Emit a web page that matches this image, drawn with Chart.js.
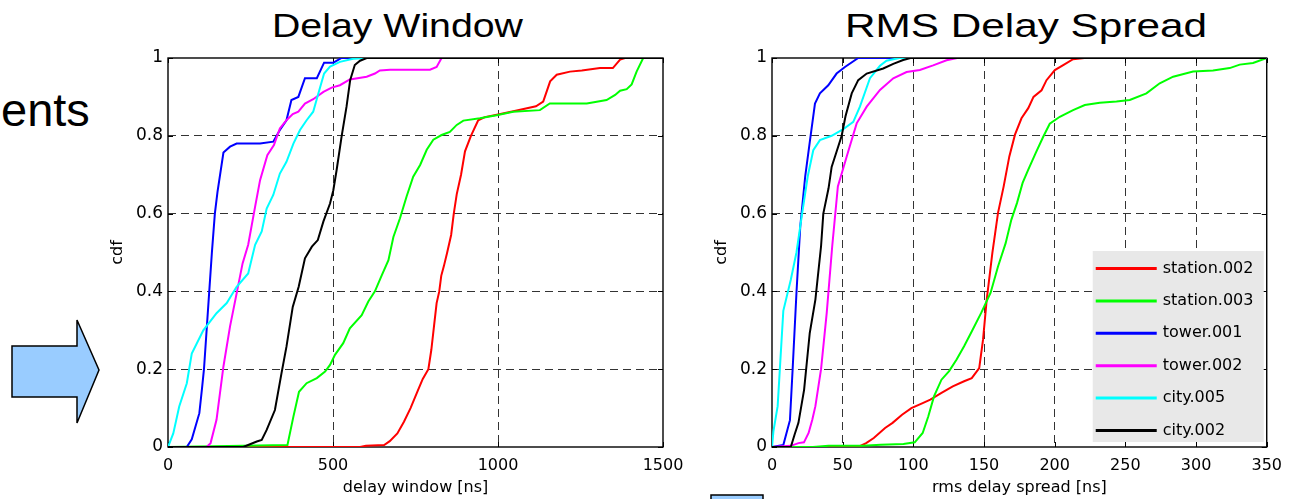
<!DOCTYPE html>
<html>
<head>
<meta charset="utf-8">
<script src="https://cdn.jsdelivr.net/npm/chart.js@4/dist/chart.umd.min.js"></script>
<style>
  html, body { margin: 0; padding: 0; background: #fff; }
  body { width: 1291px; height: 499px; position: relative; overflow: hidden; }
  #deco { position: absolute; left: 0; top: 0; }
  canvas { position: absolute; top: 0; }
  #dwChart { left: 0; }
  #rmsChart { left: 700px; }
</style>
</head>
<body>
<svg id="deco" width="1291" height="499" font-family="Liberation Sans, Arial, sans-serif">
  <text x="1" y="126" font-size="47" fill="#000">ents</text>
  <polygon points="12,346 77,346 77,320 99,370 77,423 77,397 12,397" fill="#99CCFF" stroke="#000" stroke-width="1.5"/>
  <rect x="711" y="495" width="52" height="12" fill="#99CCFF" stroke="#000" stroke-width="1.5"/>
  <text x="272" y="37" font-size="33" fill="#000" textLength="251" lengthAdjust="spacingAndGlyphs">Delay Window</text>
  <text x="845" y="37" font-size="33" fill="#000" textLength="362" lengthAdjust="spacingAndGlyphs">RMS Delay Spread</text>
</svg>
<canvas id="dwChart" width="700" height="499"></canvas>
<canvas id="rmsChart" width="591" height="499"></canvas>
<script>
// Measurement sets, in legend order
const seriesNames = ['station.002', 'station.003', 'tower.001', 'tower.002', 'city.005', 'city.002'];
const seriesColors = ['#ff0000', '#00ff00', '#0000ff', '#ff00ff', '#00ffff', '#000000'];

// CDF axis
const cdfTicks = [0, 0.2, 0.4, 0.6, 0.8, 1];
const cdfTickLabels = ['0', '0.2', '0.4', '0.6', '0.8', '1'];

// Delay window [ns] axis
const dwTicks = [0, 500, 1000, 1500];
const dwTickLabels = ['0', '500', '1000', '1500'];

// RMS delay spread [ns] axis
const rmsTicks = [0, 50, 100, 150, 200, 250, 300, 350];
const rmsTickLabels = ['0', '50', '100', '150', '200', '250', '300', '350'];

// Delay window CDFs: [delay ns, cdf]
const dwStation002 = [[0,0],[582,0],[600,0.003],[655,0.005],[672,0.015],[695,0.035],[715,0.065],[735,0.1],[757,0.145],[772,0.175],[789,0.2],[798,0.25],[806,0.31],[814,0.37],[822,0.4],[828,0.44],[836,0.465],[846,0.5],[858,0.545],[866,0.6],[875,0.65],[888,0.7],[900,0.76],[918,0.8],[940,0.84],[960,0.848],[1000,0.855],[1050,0.864],[1115,0.876],[1137,0.888],[1158,0.94],[1178,0.957],[1218,0.965],[1254,0.968],[1309,0.974],[1348,0.974],[1370,0.996],[1385,1],[1500,1]];
const dwStation003 = [[0,0],[228,0.003],[362,0.005],[380,0.078],[397,0.142],[420,0.164],[451,0.177],[476,0.194],[491,0.211],[506,0.237],[531,0.267],[551,0.305],[587,0.339],[607,0.374],[627,0.4],[648,0.442],[668,0.48],[683,0.54],[703,0.588],[723,0.644],[743,0.695],[764,0.725],[784,0.764],[804,0.79],[829,0.802],[854,0.81],[875,0.828],[895,0.839],[945,0.845],[996,0.853],[1046,0.862],[1127,0.866],[1157,0.883],[1269,0.883],[1329,0.892],[1355,0.905],[1370,0.916],[1390,0.92],[1405,0.932],[1420,0.965],[1440,1],[1500,1]];
const dwTower001 = [[0,0],[57,0],[72,0.02],[95,0.087],[103,0.15],[109,0.2],[117,0.3],[125,0.4],[133,0.5],[142,0.6],[150,0.656],[168,0.757],[188,0.772],[208,0.78],[279,0.78],[319,0.785],[339,0.815],[359,0.84],[374,0.892],[395,0.9],[415,0.948],[451,0.948],[473,0.988],[501,0.988],[526,1],[1500,1]];
const dwTower002 = [[0,0],[117,0],[129,0.01],[147,0.07],[168,0.207],[188,0.31],[208,0.395],[226,0.472],[243,0.52],[264,0.618],[279,0.686],[301,0.75],[321,0.776],[339,0.819],[359,0.84],[378,0.856],[395,0.862],[415,0.883],[440,0.894],[471,0.913],[496,0.924],[521,0.93],[551,0.945],[602,0.952],[627,0.96],[642,0.968],[673,0.97],[794,0.97],[814,0.977],[829,1],[1500,1]];
const dwCity005 = [[0,0],[16,0.035],[34,0.104],[57,0.164],[72,0.24],[107,0.3],[147,0.344],[178,0.37],[208,0.412],[243,0.446],[264,0.52],[284,0.554],[299,0.613],[319,0.648],[339,0.703],[359,0.733],[380,0.78],[400,0.815],[420,0.84],[440,0.862],[456,0.91],[473,0.96],[491,0.978],[521,0.99],[561,0.998],[602,1],[1500,1]];
const dwCity002 = [[0,0],[228,0],[243,0.005],[269,0.014],[284,0.018],[299,0.044],[324,0.095],[344,0.19],[359,0.258],[378,0.36],[396,0.412],[415,0.485],[436,0.515],[454,0.532],[471,0.58],[491,0.626],[501,0.66],[511,0.712],[526,0.798],[541,0.875],[552,0.943],[566,0.982],[582,0.993],[602,1],[1500,1]];

// RMS delay spread CDFs: [spread ns, cdf]
const rmsStation002 = [[0,0],[61,0],[66.6,0.01],[72,0.023],[80,0.049],[85.3,0.062],[92,0.083],[98.6,0.1],[106.6,0.113],[112,0.122],[119.9,0.139],[127.9,0.156],[135.9,0.169],[141.3,0.177],[146.6,0.203],[149.3,0.276],[151.9,0.379],[155.9,0.499],[159.9,0.602],[163.9,0.67],[167.9,0.747],[171.9,0.803],[176.5,0.845],[181.3,0.871],[185,0.9],[190.7,0.917],[194.2,0.943],[200.1,0.969],[206.6,0.983],[213,0.997],[221,1],[350,1]];
const rmsStation003 = [[0,0],[29,0],[40,0.003],[64,0.003],[77,0.006],[93,0.008],[101,0.012],[106.6,0.036],[110.6,0.079],[114.6,0.13],[119.9,0.173],[125.3,0.195],[130.6,0.225],[135.9,0.259],[141.3,0.297],[147.9,0.344],[154.6,0.396],[159.9,0.464],[165.3,0.524],[169.3,0.584],[173.3,0.627],[177.3,0.679],[181.3,0.713],[186.6,0.756],[191.8,0.797],[196.5,0.831],[203.6,0.849],[213,0.866],[221.3,0.879],[231.9,0.885],[243.7,0.888],[253.1,0.892],[264.9,0.909],[274.3,0.935],[283.8,0.952],[297.9,0.965],[312,0.968],[323.8,0.974],[330.9,0.983],[340.3,0.987],[350,1]];
const rmsTower001 = [[0,0],[8,0.005],[12.7,0.069],[14.7,0.207],[17.3,0.396],[20,0.567],[23.5,0.696],[26.9,0.789],[30.4,0.883],[33.9,0.909],[39.8,0.93],[45.7,0.96],[51.6,0.977],[61,1],[350,1]];
const rmsTower002 = [[0,0],[13.3,0.003],[18.7,0.01],[22.6,0.012],[25.9,0.036],[28.5,0.07],[30.7,0.105],[34.7,0.2],[38.7,0.344],[42.6,0.516],[46.6,0.67],[52.8,0.746],[59.9,0.832],[67,0.875],[76.4,0.918],[85.8,0.948],[95.2,0.964],[104.6,0.969],[114,0.981],[123.5,0.994],[131,1],[350,1]];
const rmsCity005 = [[0,0],[1,0.04],[4,0.105],[8,0.35],[13.3,0.43],[17.3,0.5],[21.3,0.6],[25.3,0.696],[29.2,0.763],[33.9,0.789],[42.2,0.8],[50.4,0.817],[57.5,0.836],[62.2,0.875],[69.3,0.948],[76.4,0.98],[81,0.993],[90,1],[350,1]];
const rmsCity002 = [[0,0],[13.3,0],[16,0.032],[18.7,0.062],[22.7,0.147],[26.7,0.293],[30.7,0.379],[34.7,0.516],[36.3,0.6],[40,0.665],[42.2,0.72],[49.3,0.8],[52,0.85],[56.4,0.909],[61,0.943],[67,0.96],[78.7,0.973],[85.8,0.985],[92.8,0.995],[98,1],[350,1]];

Chart.defaults.font.family = 'DejaVu Sans, sans-serif';
Chart.defaults.color = '#000';

// Box around the axes plus MATLAB-style inward tick marks on all four sides
const axesBox = {
  id: 'axesBox',
  beforeDatasetsDraw(chart) {
    const { ctx, chartArea: a, scales } = chart;
    ctx.save();
    ctx.strokeStyle = '#000';
    ctx.lineWidth = 1.4;
    ctx.strokeRect(a.left, a.top, a.right - a.left, a.bottom - a.top);
    ctx.lineWidth = 1;
    ctx.beginPath();
    const len = 5;
    scales.x.ticks.forEach(t => {
      const px = Math.round(scales.x.getPixelForValue(t.value)) + 0.5;
      ctx.moveTo(px, a.bottom); ctx.lineTo(px, a.bottom - len);
      ctx.moveTo(px, a.top); ctx.lineTo(px, a.top + len);
    });
    scales.y.ticks.forEach(t => {
      const py = Math.round(scales.y.getPixelForValue(t.value)) + 0.5;
      ctx.moveTo(a.left, py); ctx.lineTo(a.left + len, py);
      ctx.moveTo(a.right, py); ctx.lineTo(a.right - len, py);
    });
    ctx.stroke();
    ctx.restore();
  }
};

// Legend drawn inside the plot, lower right, on a grey panel
const insetLegend = {
  id: 'insetLegend',
  afterDatasetsDraw(chart, args, opts) {
    if (!opts.display) return;
    const { ctx, chartArea: a } = chart;
    const w = 171, h = 191;
    const x0 = a.right - 3 - w, y0 = a.bottom - 5 - h;
    ctx.save();
    ctx.fillStyle = '#e8e8e8';
    ctx.fillRect(x0, y0, w, h);
    ctx.font = '16px "DejaVu Sans", sans-serif';
    ctx.textBaseline = 'middle';
    ctx.textAlign = 'left';
    chart.data.datasets.forEach((ds, i) => {
      const cy = y0 + 17.5 + i * 32.4;
      ctx.strokeStyle = ds.borderColor;
      ctx.lineWidth = 3;
      ctx.beginPath();
      ctx.moveTo(x0 + 3, cy);
      ctx.lineTo(x0 + 64, cy);
      ctx.stroke();
      ctx.fillStyle = '#000';
      ctx.fillText(ds.label, x0 + 70, cy);
    });
    ctx.restore();
  }
};

function buildDatasets(seriesList) {
  return seriesList.map((pts, i) => ({
    label: seriesNames[i],
    data: pts.map(([x, y]) => ({ x, y })),
    borderColor: seriesColors[i],
    backgroundColor: seriesColors[i],
    borderWidth: 2,
    pointRadius: 0,
    tension: 0,
    fill: false,
    order: seriesList.length - 1 - i
  }));
}

function gridColor(count) {
  return ctx => (ctx.index === 0 || ctx.index === count - 1) ? 'rgba(0,0,0,0)' : '#333333';
}

function makeCdfChart(canvasId, seriesList, xTicks, xLabels, xTitle, padding, withLegend) {
  return new Chart(document.getElementById(canvasId), {
    type: 'line',
    data: { datasets: buildDatasets(seriesList) },
    options: {
      responsive: false,
      animation: false,
      devicePixelRatio: 1,
      layout: { padding },
      plugins: {
        legend: { display: false },
        tooltip: { enabled: false },
        title: { display: false },
        insetLegend: { display: withLegend }
      },
      scales: {
        x: {
          type: 'linear',
          min: xTicks[0],
          max: xTicks[xTicks.length - 1],
          afterBuildTicks: s => { s.ticks = xTicks.map(v => ({ value: v })); },
          afterFit: s => { s.height = 52; },
          ticks: {
            callback: (v, i) => xLabels[i],
            font: { size: 16 },
            color: '#000',
            padding: 9,
            maxRotation: 0,
            autoSkip: false
          },
          grid: { color: gridColor(xTicks.length), lineWidth: 1, drawTicks: false },
          border: { display: false, dash: [8, 5] },
          title: { display: true, text: xTitle, font: { size: 16 }, color: '#000', padding: { top: 0, bottom: 2 } }
        },
        y: {
          type: 'linear',
          min: 0,
          max: 1,
          afterBuildTicks: s => { s.ticks = cdfTicks.map(v => ({ value: v })); },
          afterFit: s => { s.width = 68; },
          ticks: {
            callback: (v, i) => cdfTickLabels[i],
            font: { size: 17 },
            color: '#000',
            padding: 5,
            autoSkip: false
          },
          grid: { color: gridColor(cdfTicks.length), lineWidth: 1, drawTicks: false },
          border: { display: false, dash: [8, 5] },
          title: { display: true, text: 'cdf', font: { size: 16 }, color: '#000', padding: { top: 8, bottom: 0 } }
        }
      }
    },
    plugins: [axesBox, insetLegend]
  });
}

makeCdfChart('dwChart',
  [dwStation002, dwStation003, dwTower001, dwTower002, dwCity005, dwCity002],
  dwTicks, dwTickLabels, 'delay window [ns]',
  { left: 100, top: 58, right: 37, bottom: 0 }, false);

makeCdfChart('rmsChart',
  [rmsStation002, rmsStation003, rmsTower001, rmsTower002, rmsCity005, rmsCity002],
  rmsTicks, rmsTickLabels, 'rms delay spread [ns]',
  { left: 4, top: 58, right: 24, bottom: 0 }, true);
</script>
</body>
</html>
